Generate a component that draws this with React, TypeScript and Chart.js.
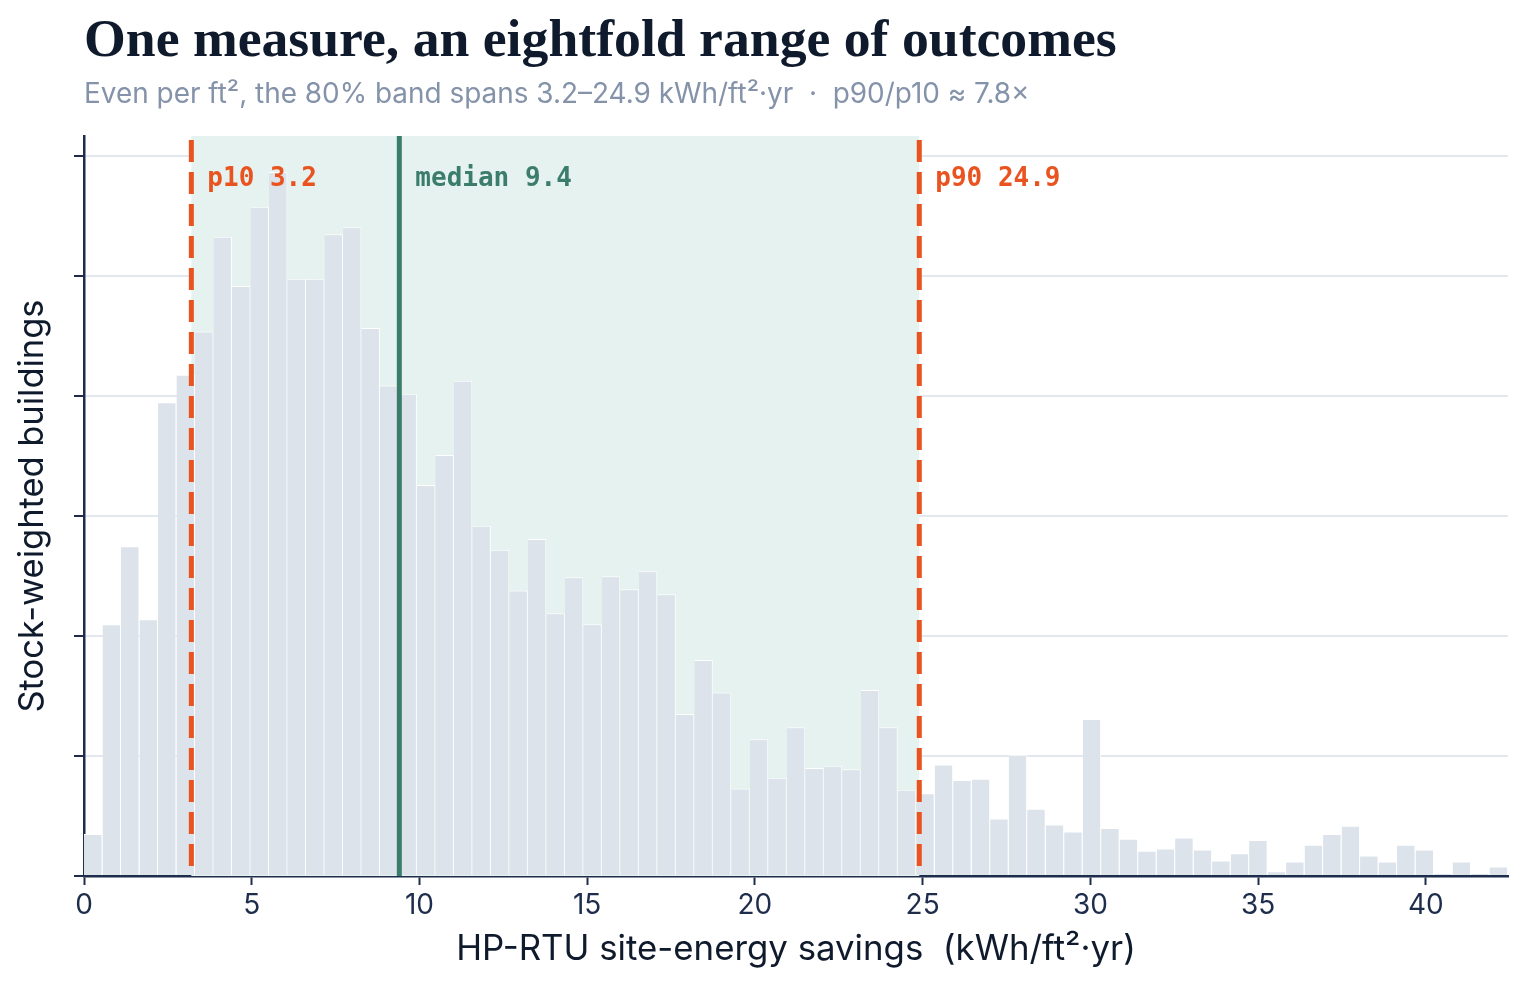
import React, { useEffect, useRef } from "react";
import { Chart, registerables } from "chart.js";

Chart.register(...registerables);

// ---- data ----
const BIN_WIDTH = 0.5513; // kWh/ft²·yr per histogram bin
const BIN_COUNTS = [
  35, 210, 275, 214, 395, 418, 454, 533, 492, 558, 587, 498, 498, 535, 541, 457,
  409, 402, 326, 351, 413, 292, 272, 238, 281, 219, 249, 210, 250, 239, 254, 235,
  135, 180, 153, 73, 114, 82, 124, 90, 92, 89, 155, 124, 72, 69, 93, 80, 81, 48,
  101, 56, 43, 37, 131, 40, 31, 21, 23, 32, 22, 13, 19, 30, 4, 12, 26, 35, 42, 17,
  12, 26, 22, 2.5, 12, 2.5, 8,
];
const X_TICKS = [0, 5, 10, 15, 20, 25, 30, 35, 40];
const Y_TICKS = [0, 100, 200, 300, 400, 500, 600];
const Y_MAX = 617;
const P10 = 3.2;
const MEDIAN = 9.4;
const P90 = 24.9;

const TITLE = "One measure, an eightfold range of outcomes";
const SUBTITLE =
  "Even per ft\u00B2, the 80% band spans 3.2\u201324.9 kWh/ft\u00B2\u00B7yr  \u00B7  p90/p10 \u2248 7.8\u00D7";
const X_TITLE = "HP-RTU site-energy savings  (kWh/ft\u00B2\u00B7yr)";
const Y_TITLE = "Stock-weighted buildings";
const P10_LABEL = "p10 3.2";
const MEDIAN_LABEL = "median 9.4";
const P90_LABEL = "p90 24.9";

// ---- style ----
const NAVY = "#1e2d4b";
const INK = "#0f1b2d";
const BAR = "#dde3eb";
const BAND = "#e5f2ef";
const ORANGE = "#e8531f";
const GREEN = "#3b7d6a";
const GRID = "#e3e8ef";
const SUB = "#8493a9";

function fitSize(text: string, family: string, weight: string, target: number) {
  const ctx = document.createElement("canvas").getContext("2d")!;
  const base = 40;
  ctx.font = `${weight} ${base}px ${family}`;
  return (base * target) / ctx.measureText(text).width;
}

export default function App() {
  const ref = useRef<HTMLCanvasElement>(null);

  useEffect(() => {
    const canvas = ref.current!;
    const titleSize = fitSize(TITLE, '"Liberation Serif"', "bold", 1033);
    const subSize = fitSize(SUBTITLE, "Inter", "normal", 946);
    const xTitleSize = fitSize(X_TITLE, "Inter", "normal", 680);
    const yTitleSize = fitSize(Y_TITLE, "Inter", "normal", 413);
    const tickSize = 28;

    const xLh = xTitleSize * 1.2;
    const yLh = yTitleSize * 1.2;
    const xTickLen = 9;
    const tickPad = 4;
    const xPb = 990 - 950 - xLh / 2;
    const xPt = 110 - xTickLen - tickSize * 1.2 - tickPad - xLh - xPb;
    const yTickLen = 10;
    const yPt = 33 - yLh / 2;
    const yPb = 84 - yTickLen - yLh - yPt;

    const overlay = {
      id: "overlay",
      beforeDatasetsDraw(chart: any) {
        const { ctx, chartArea, scales } = chart;
        const x1 = scales.x.getPixelForValue(P10);
        const x2 = scales.x.getPixelForValue(P90);
        ctx.save();
        ctx.fillStyle = BAND;
        ctx.fillRect(x1, chartArea.top, x2 - x1, chartArea.bottom - chartArea.top);
        ctx.restore();
      },
      afterDatasetsDraw(chart: any) {
        const { ctx, chartArea, scales } = chart;
        const top = chartArea.top;
        const bottom = chartArea.bottom;
        const line = (v: number, color: string, dash: number[]) => {
          const x = scales.x.getPixelForValue(v);
          ctx.save();
          ctx.strokeStyle = color;
          ctx.lineWidth = 5;
          ctx.setLineDash(dash);
          ctx.lineDashOffset = -4;
          ctx.beginPath();
          ctx.moveTo(x, top);
          ctx.lineTo(x, bottom);
          ctx.stroke();
          ctx.restore();
          return x;
        };
        const xa = line(P10, ORANGE, [22, 10]);
        const xm = line(MEDIAN, GREEN, []);
        const xb = line(P90, ORANGE, [22, 10]);
        ctx.save();
        ctx.font = 'bold 26px "DejaVu Sans Mono"';
        ctx.textBaseline = "alphabetic";
        ctx.textAlign = "left";
        ctx.fillStyle = ORANGE;
        ctx.fillText(P10_LABEL, xa + 16, top + 50);
        ctx.fillText(P90_LABEL, xb + 16, top + 50);
        ctx.fillStyle = GREEN;
        ctx.fillText(MEDIAN_LABEL, xm + 16, top + 50);
        ctx.restore();
      },
      afterDraw(chart: any) {
        const { ctx } = chart;
        ctx.save();
        ctx.textAlign = "left";
        ctx.textBaseline = "alphabetic";
        ctx.fillStyle = INK;
        ctx.font = `bold ${titleSize}px "Liberation Serif"`;
        ctx.fillText(TITLE, 84, 56);
        ctx.fillStyle = SUB;
        ctx.font = `normal ${subSize}px Inter`;
        ctx.fillText(SUBTITLE, 84, 103);
        ctx.restore();
      },
    };

    const chart = new Chart(canvas, {
      type: "bar",
      data: {
        datasets: [
          {
            data: BIN_COUNTS.map((c, i) => ({ x: (i + 0.5) * BIN_WIDTH, y: c })),
            backgroundColor: BAR,
            borderColor: "#ffffff",
            borderWidth: { top: 1, right: 1, left: 0, bottom: 0 },
            borderSkipped: false,
            barPercentage: 1,
            categoryPercentage: 1,
            inflateAmount: 0,
          } as any,
        ],
      },
      options: {
        animation: false,
        responsive: false,
        devicePixelRatio: 1,
        layout: { padding: { top: 136, right: 20, left: 0, bottom: 0 } },
        plugins: {
          legend: { display: false },
          tooltip: { enabled: false },
          title: { display: false },
        },
        scales: {
          x: {
            type: "linear",
            offset: false,
            min: 0,
            max: BIN_COUNTS.length * BIN_WIDTH,
            afterBuildTicks: (s: any) => {
              s.ticks = X_TICKS.map((v) => ({ value: v }));
            },
            ticks: {
              color: NAVY,
              font: { family: "Inter", size: tickSize },
              padding: tickPad,
              maxRotation: 0,
              autoSkip: false,
              includeBounds: false,
            },
            grid: {
              offset: false,
              drawOnChartArea: false,
              drawTicks: true,
              tickLength: xTickLen,
              tickColor: NAVY,
              tickWidth: 2,
            },
            border: { display: true, color: NAVY, width: 2.5 },
            title: {
              display: true,
              text: X_TITLE,
              color: INK,
              font: { family: "Inter", size: xTitleSize },
              padding: { top: xPt, bottom: xPb },
            },
          },
          y: {
            min: 0,
            max: Y_MAX,
            afterBuildTicks: (s: any) => {
              s.ticks = Y_TICKS.map((v) => ({ value: v }));
            },
            ticks: { display: false },
            grid: {
              color: GRID,
              lineWidth: 2,
              drawTicks: true,
              tickLength: yTickLen,
              tickColor: NAVY,
              tickWidth: 2,
            },
            border: { display: true, color: NAVY, width: 2.5 },
            title: {
              display: true,
              text: Y_TITLE,
              color: INK,
              font: { family: "Inter", size: yTitleSize },
              padding: { top: yPt, bottom: yPb },
            },
          },
        },
      } as any,
      plugins: [overlay],
    });
    return () => chart.destroy();
  }, []);

  return (
    <div style={{ position: "fixed", left: 0, top: 0, width: 1528, height: 990, background: "#ffffff" }}>
      <canvas ref={ref} width={1528} height={990} style={{ width: 1528, height: 990, display: "block" }} />
    </div>
  );
}
